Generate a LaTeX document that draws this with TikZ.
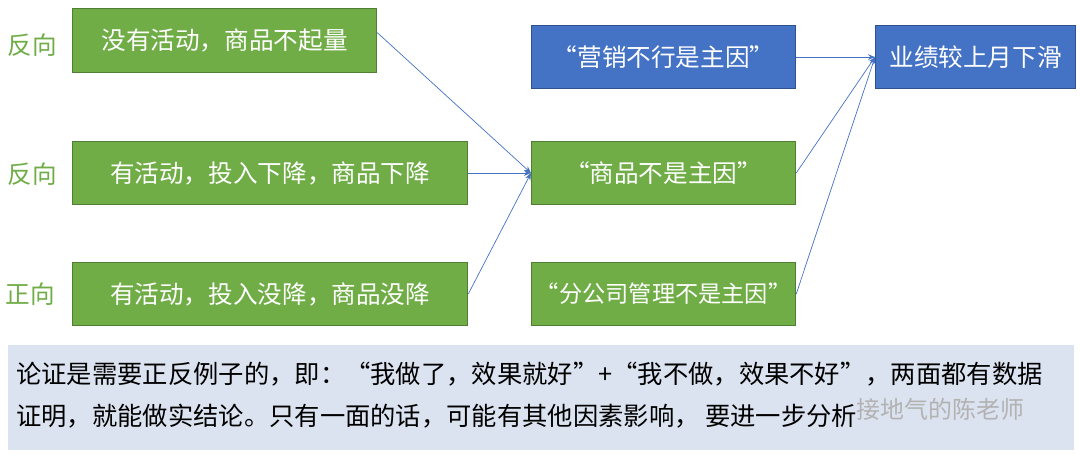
\documentclass[tikz,border=0pt]{standalone}
\usepackage{fontspec}
\setmainfont{Noto Sans CJK SC}
\usetikzlibrary{arrows.meta}
\definecolor{gfill}{HTML}{70AD47}
\definecolor{gline}{HTML}{507E32}
\definecolor{bfill}{HTML}{4472C4}
\definecolor{bline}{HTML}{2F528F}
\definecolor{panel}{HTML}{DCE3F0}
\tikzset{
  x=0.025cm,y=-0.025cm,
  gbox/.style={draw=gline,line width=0.8pt,fill=gfill,text=white,font=\fontsize{17.5}{20}\selectfont,anchor=north west,inner sep=0pt},
  bbox/.style={draw=bline,line width=0.8pt,fill=bfill,text=white,font=\fontsize{17.5}{20}\selectfont,anchor=north west,inner sep=0pt},
  side/.style={text=gfill,font=\fontsize{17.5}{20}\selectfont},
  conn/.style={draw=bfill,line width=0.5pt,-{Stealth[length=5pt,width=4pt]}}
}
\begin{document}
\begin{tikzpicture}
\useasboundingbox (0,0) rectangle (1080,458);
\node[gbox,minimum width=7.6cm,minimum height=1.6cm] (a1) at (72,8) {没有活动，商品不起量};
\node[gbox,minimum width=9.875cm,minimum height=1.575cm] (a2) at (72,141) {有活动，投入下降，商品下降};
\node[gbox,minimum width=9.875cm,minimum height=1.575cm] (a3) at (72,262) {有活动，投入没降，商品没降};
\node[side] (l1) at (32,45) {反向};
\node[side] (l2) at (32,174) {反向};
\node[side] (l3) at (30,294) {正向};
\node[bbox,minimum width=6.6cm,minimum height=1.575cm] (b1) at (531,25) {“营销不行是主因”};
\node[gbox,minimum width=6.6cm,minimum height=1.575cm] (b2) at (531,141) {“商品不是主因”};
\node[gbox,minimum width=6.6cm,minimum height=1.575cm,font=\fontsize{16.5}{20}\selectfont] (b3) at (531,262) {“分公司管理不是主因”};
\node[bbox,minimum width=5cm,minimum height=1.575cm] (c1) at (875,25) {业绩较上月下滑};
\draw[conn] ([yshift=0.2cm]a1.east) -- (b2.west);
\draw[conn] (a2.east) -- (b2.west);
\draw[conn] (a3.east) -- (b2.west);
\draw[conn] (b1.east) -- (c1.west);
\draw[conn] (b2.east) -- (c1.west);
\draw[conn] (b3.east) -- (c1.west);
\node[fill=panel,anchor=north west,minimum width=26.625cm,minimum height=2.625cm,inner sep=0pt] (p) at (8,345) {};
\node[anchor=north west,align=left,inner sep=0pt,font=\fontsize{18}{30}\selectfont] (t) at (16,362)
 {论证是需要正反例子的，即：“我做了，效果就好”+“我不做，效果不好”，两面都有数据\\证明，就能做实结论。只有一面的话，可能有其他因素影响， 要进一步分析};
\node[text=gray!60,font=\fontsize{17}{20}\selectfont,anchor=west] (w) at (852,409) {接地气的陈老师};
\end{tikzpicture}
\end{document}
